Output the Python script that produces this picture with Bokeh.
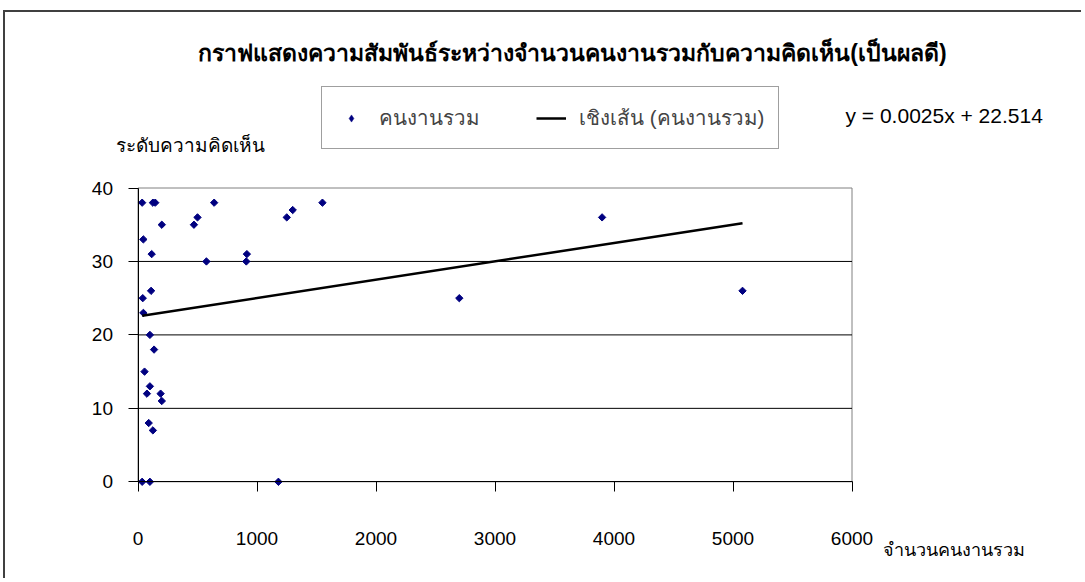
from bokeh.plotting import figure
from bokeh.models import (Range1d, FixedTicker, Label, Legend, LegendItem,
                          ColumnDataSource, LinearAxis)
from bokeh.embed import file_html
from bokeh.resources import INLINE
import numpy as np

# ---- data ----
workers = [35, 125, 145, 200, 45, 115, 470, 500, 640, 1550, 575, 910, 915,
           1250, 1300, 40, 110, 45, 100, 135, 55, 100, 75, 190, 200, 90, 125,
           35, 100, 1180, 2700, 3900, 5080]
opinion = [38, 38, 38, 35, 33, 31, 35, 36, 38, 38, 30, 30, 31,
           36, 37, 25, 26, 23, 20, 18, 15, 13, 12, 12, 11, 8, 7,
           0, 0, 0, 25, 36, 26]
slope = 0.0025
intercept = 22.514
x_ticks = [0, 1000, 2000, 3000, 4000, 5000, 6000]
y_ticks = [0, 10, 20, 30, 40]

title_text = "กราฟแสดงความสัมพันธ์ระหว่างจำนวนคนงานรวมกับความคิดเห็น(เป็นผลดี)"
series_name = "คนงานรวม"
trend_name = "เชิงเส้น (คนงานรวม)"
equation_text = "y = 0.0025x + 22.514"
y_label_text = "ระดับความคิดเห็น"
x_label_text = "จำนวนคนงานรวม"

FONT = "Liberation Sans, Arial, sans-serif"
NAVY = "#000080"

# ---- layout (canvas pixels) ----
W, H = 1078, 568
PX_L, PX_R = 132.5, 846.5      # plot area left / right
PX_T, PX_B = 175.5, 469.3      # plot area top / bottom
x0, x1 = x_ticks[0], x_ticks[-1]
y0, y1 = y_ticks[0], y_ticks[-1]
kx = (PX_R - PX_L) / (x1 - x0)
ky = (PX_B - PX_T) / (y1 - y0)
xr = Range1d(x0 - PX_L / kx, x1 + (W - PX_R) / kx)
yr = Range1d(y0 - (H - PX_B) / ky, y1 + PX_T / ky)

p = figure(width=W, height=H, output_backend="svg", toolbar_location=None,
           x_range=xr, y_range=yr, x_axis_type=None, y_axis_type=None,
           min_border=0)
p.title = None
p.background_fill_color = "white"
p.border_fill_color = "white"
p.outline_line_color = None

# plot-area border and horizontal gridlines
p.quad(left=[x0], right=[x1], bottom=[y0], top=[y1], fill_color=None,
       line_color="#808080", line_width=1)
inner = [t for t in y_ticks if y0 < t < y1]
p.segment(x0=[x0] * len(inner), x1=[x1] * len(inner), y0=inner, y1=inner,
          line_color="black", line_width=1)

# axes fixed at the origin
xaxis = LinearAxis(fixed_location=y0, bounds=(x0, x1), ticker=FixedTicker(ticks=x_ticks))
yaxis = LinearAxis(fixed_location=x0, bounds=(y0, y1), ticker=FixedTicker(ticks=y_ticks))
for ax in (xaxis, yaxis):
    ax.axis_line_color = "black"
    ax.axis_line_width = 1
    ax.major_tick_line_color = "black"
    ax.major_tick_in = 0
    ax.major_tick_out = 10
    ax.minor_tick_line_color = None
    ax.major_label_text_font = FONT
    ax.major_label_text_font_size = "19px"
    ax.major_label_text_color = "black"
xaxis.major_label_standoff = 40
yaxis.major_label_standoff = 15
p.add_layout(xaxis, "below")
p.add_layout(yaxis, "left")

# points
src = ColumnDataSource(dict(x=workers, y=opinion))
pts = p.scatter("x", "y", source=src, marker="square", angle=np.pi / 4,
                size=5.2, fill_color=NAVY, line_color=NAVY, line_width=1)
# legend swatch: same series drawn as zero-size diamonds (only the legend shows it)
swatch = p.scatter("x", "y", source=src, marker="diamond", size=0,
                   fill_color=NAVY, line_color=NAVY, line_width=0.5)

# linear trend
xs = [min(workers), max(workers)]
ys = [slope * v + intercept for v in xs]
trend = p.line(xs, ys, line_color="black", line_width=2.5)

legend = Legend(items=[LegendItem(label=series_name, renderers=[swatch]),
                       LegendItem(label=trend_name, renderers=[trend])],
                orientation="horizontal", location=(316, 431),
                padding=14, spacing=56, glyph_width=30, glyph_height=18,
                label_standoff=13, margin=0,
                label_text_font=FONT, label_text_font_size="20.5px",
                border_line_color="#404040", border_line_width=1,
                background_fill_color="white", background_fill_alpha=1)
p.add_layout(legend, "center")

# texts (canvas coordinates)
def add_text(x, y, text, align="left", size="19px", style="normal"):
    p.add_layout(Label(x=x, y=y, x_units="canvas", y_units="canvas",
                       text=text, text_align=align, text_baseline="alphabetic",
                       text_font=FONT, text_font_size=size,
                       text_font_style=style, text_color="black"))

add_text(565, 38, title_text, align="center", size="23px", style="bold")
add_text(838, 101, equation_text, size="21px")
add_text(108, 131, y_label_text)
add_text(875, 535, x_label_text, size="18px")

p.styles = {"border-top": "2px solid #404040", "border-left": "2px solid #404040",
            "margin-left": "3px", "margin-top": "10px"}

open("out.html", "w").write(file_html(p, INLINE))
